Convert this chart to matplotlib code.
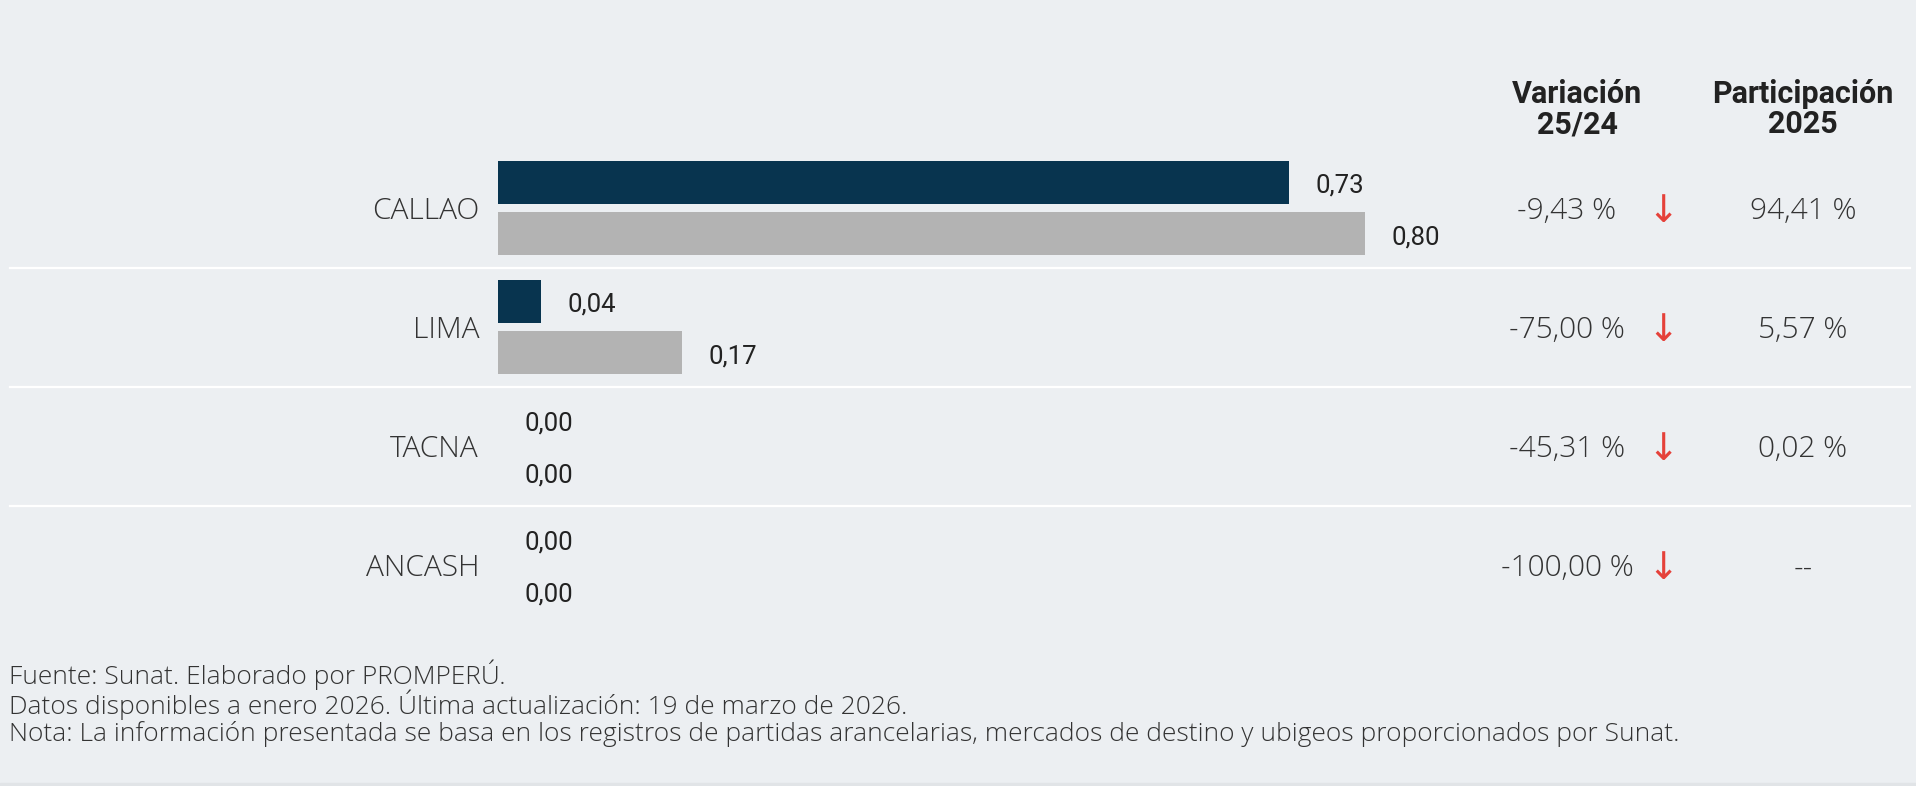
import matplotlib
matplotlib.use("Agg")
import matplotlib.pyplot as plt
from matplotlib.transforms import blended_transform_factory
from matplotlib.lines import Line2D

# data
regions = ["CALLAO", "LIMA", "TACNA", "ANCASH"]
val_2025 = [0.73, 0.04, 0.00, 0.00]
val_2024 = [0.80, 0.17, 0.00, 0.00]
variacion = ["-9,43 %", "-75,00 %", "-45,31 %", "-100,00 %"]
participacion = ["94,41 %", "5,57 %", "0,02 %", "--"]
footnotes = [
    "Fuente: Sunat. Elaborado por PROMPERÚ.",
    "Datos disponibles a enero 2026. Última actualización: 19 de marzo de 2026.",
    "Nota: La información presentada se basa en los registros de partidas arancelarias, mercados de destino y ubigeos proporcionados por Sunat.",
]

BG = "#eceff2"
NAVY = "#08344f"
GREY = "#b3b3b3"
TXT = "#333333"
RED = "#e5413a"
LIGHT = ["Open Sans", "DejaVu Sans"]
NUM = ["Roboto", "DejaVu Sans"]

W, H = 1916, 786
fig = plt.figure(figsize=(W / 100, H / 100), dpi=100, facecolor=BG)


def fx(px):
    return px / W


def fy(py):
    return 1 - py / H


# axes: rows of 119 px, first row centre at y=208, bars start at x=498
ax = fig.add_axes([fx(498), fy(624.5), fx(1084), 476 / H])
ax.set_facecolor("none")
ax.set_xlim(0, 1.0)
ax.set_ylim(3.5, -0.5)
ax.axis("off")

ypos = list(range(len(regions)))
off = 0.215
bh = 0.36
dy = 0.03  # small nudge so text sits on the row centre
ax.barh([y - off for y in ypos], val_2025, height=bh, color=NAVY)
ax.barh([y + off for y in ypos], val_2024, height=bh, color=GREY)

for y, v in zip(ypos, val_2025):
    ax.annotate(f"{v:.2f}".replace(".", ","), (v, y - off + dy), xytext=(19, 0),
                textcoords="offset points", ha="left", va="center",
                fontsize=18.5, color="#222222", family=NUM)
for y, v in zip(ypos, val_2024):
    ax.annotate(f"{v:.2f}".replace(".", ","), (v, y + off + dy), xytext=(19, 0),
                textcoords="offset points", ha="left", va="center",
                fontsize=18.5, color="#222222", family=NUM)

tr = blended_transform_factory(fig.transFigure, ax.transData)
for y, name in zip(ypos, regions):
    ax.text(fx(479), y + dy, name, transform=tr, ha="right", va="center",
            fontsize=21.5, color=TXT, family=LIGHT, fontweight="light")
for y, v in zip(ypos, variacion):
    ax.text(fx(1567), y + dy, v, transform=tr, ha="center", va="center",
            fontsize=21.5, color=TXT, family=LIGHT, fontweight="light")
    ax.text(fx(1663), y + dy, "↓", transform=tr, ha="center", va="center",
            fontsize=27, color=RED, family=["DejaVu Sans"])
for y, v in zip(ypos, participacion):
    ax.text(fx(1803), y + dy, v, transform=tr, ha="center", va="center",
            fontsize=21.5, color=TXT, family=LIGHT, fontweight="light")

# separators between rows
for y in [0.5, 1.5, 2.5]:
    fig.add_artist(Line2D([fx(10), fx(1910)], [y, y], transform=tr,
                          color="white", linewidth=1.6))

# column headers
fig.text(fx(1577), fy(109), "Variación\n25/24", ha="center", va="center",
         fontsize=22, fontweight="bold", color="#222222", linespacing=1.0,
         family=NUM)
fig.text(fx(1803), fy(109), "Participación\n2025", ha="center", va="center",
         fontsize=22, fontweight="bold", color="#222222", linespacing=1.0,
         family=NUM)

# footnotes
for i, line in enumerate(footnotes):
    fig.text(fx(9), fy(675 + i * 29.5), line, ha="left", va="center",
             fontsize=19, color=TXT, family=LIGHT, fontweight="light")

fig.patches.append(plt.Rectangle((0, 0), 1, 3 / H, transform=fig.transFigure,
                                 color="#e1e4e7", zorder=0))

fig.savefig("out.png", dpi=100, facecolor=BG)
